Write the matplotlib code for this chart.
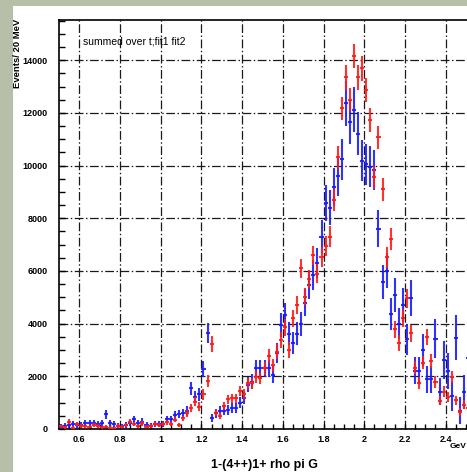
import numpy as np
import matplotlib
matplotlib.use("Agg")
import matplotlib.pyplot as plt
from matplotlib.ticker import FixedLocator, MultipleLocator
from matplotlib.patches import Rectangle

plt.rcParams['font.family'] = ['Liberation Sans', 'DejaVu Sans']

# ---- data (20 MeV bins, centres 0.51 ... 2.51 GeV) ----
bin_lo = 0.50
bin_width = 0.02

red_vals = [
    100, 60, 280, 50, 200, 120, 100, 80, 150, 120, 60, 80, 50, 30, 120, 80, 150, 280, 200, 120, 220, 80, 120, 180, 150,
    200, 250, 200, 350, 150, 400, 590, 785, 1040, 850, 1310, 1820,
    3230, 620, 505, 885, 1130, 1165, 1165, 1455, 1330, 1735, 1735, 1985, 1920, 2300, 2770, 2420, 2930, 3380,
    3860, 3000, 4200, 4700,
    6100, 5020, 5680, 6600, 5900, 6540, 6940, 7300, 8690, 10310, 12170, 13350, 12510, 14160, 13350, 13690, 12870, 11730, 9550,
    11070, 9100, 6520, 7200, 3780, 3280, 4200, 4960, 3630, 2330, 1750, 2520, 3500, 2570, 1780, 1070, 1420, 1230, 1990, 1100, 640, 930, 800,
]
red_err = [
    70, 60, 90, 60, 80, 70, 70, 60, 80, 70, 60, 60, 60, 50, 70, 60, 80, 90, 80, 70, 90, 60, 70, 80, 80,
    80, 90, 80, 100, 80, 110, 130, 150, 170, 160, 190, 220,
    300, 130, 120, 150, 170, 170, 170, 190, 180, 210, 210, 220, 220, 240, 270, 250, 280, 300,
    320, 290, 330, 350,
    350, 320, 340, 360, 350, 370, 380, 390, 420, 440, 450, 460, 450, 470, 460, 460, 450, 440, 420,
    450, 430, 400, 420, 320, 300, 340, 360, 310, 250, 220, 260, 310, 270, 220, 170, 200, 190, 230, 170, 140, 160, 150,
]
blue_vals = [
    80, 120, 150, 180, 140, 160, 220, 240, 230, 200, 220, 560, 230, 180, 120, 100, 160, 230, 370, 210, 280, 150, 120, 200, 180,
    200, 370, 370, 530, 560, 600, 680, 1540, 1200, 1320, 2280, 3630,
    430, 600, 700, 700, 720, 800, 780, 990, 1170, 1680, 1800, 2300, 2300, 2300, 2300, 2060, 2900, 3950,
    4330, 3620, 3250, 3620,
    4000, 4800, 5470, 5840, 6310, 7300, 8590, 8410, 9200, 9600, 10240, 12360, 11660, 12130, 11220, 10180, 10060, 9960, 9830,
    7600, 5570, 6010, 4360, 5090, 4000, 4700, 3400, 4980, 2220, 2220, 3010, 1880, 1880, 3430, 1420, 2630, 2190, 1250, 3470, 700, 1410, 2700,
]
blue_err = [
    100, 100, 110, 110, 100, 110, 120, 120, 120, 110, 120, 170, 120, 110, 100, 100, 110, 120, 140, 120, 130, 110, 100, 120, 110,
    120, 140, 140, 160, 160, 170, 180, 260, 230, 240, 300, 380,
    150, 170, 180, 180, 180, 190, 190, 210, 230, 280, 290, 330, 330, 330, 330, 320, 380, 440,
    460, 430, 420, 440,
    460, 500, 540, 560, 580, 620, 680, 680, 720, 740, 780, 860, 840, 860, 820, 780, 780, 770, 770,
    700, 640, 660, 600, 640, 600, 640, 580, 680, 520, 520, 600, 520, 520, 740, 500, 730, 680, 560, 840, 520, 640, 800,
]

xtick_vals = [0.6, 0.8, 1.0, 1.2, 1.4, 1.6, 1.8, 2.0, 2.2, 2.4]
xtick_labels = ["0.6", "0.8", "1", "1.2", "1.4", "1.6", "1.8", "2", "2.2", "2.4"]
ytick_vals = [0, 2000, 4000, 6000, 8000, 10000, 12000, 14000]
ytick_labels = ["0", "2000", "4000", "6000", "8000", "10000", "12000", "14000"]

mass = bin_lo + bin_width * (np.arange(len(red_vals)) + 0.5)

# ---- figure ----
W, H = 467, 472
fig = plt.figure(figsize=(W / 100, H / 100), dpi=100, facecolor='#b8bfa9')
fig.patches.append(Rectangle((13 / W, 0), 1, 1 - 6 / H, transform=fig.transFigure,
                             facecolor='white', edgecolor='none', zorder=-10))

xmin, xmax = 0.5, 2.6
ymin, ymax = 0, 15530
ax_left, ax_bottom, ax_top = 59 / W, 1 - 429 / H, 1 - 20 / H
ax_w = (xmax - xmin) * 203.5 / W
ax = fig.add_axes([ax_left, ax_bottom, ax_w, ax_top - ax_bottom])
ax.set_zorder(1)
ax.set_facecolor('white')
ax.set_xlim(xmin, xmax)
ax.set_ylim(ymin, ymax)

ax.errorbar(mass, blue_vals, yerr=blue_err, xerr=bin_width / 2, fmt='none',
            ecolor='#1a1aff', elinewidth=1.5, capsize=0, alpha=0.9, zorder=3)
ax.errorbar(mass, red_vals, yerr=red_err, xerr=bin_width / 2, fmt='none',
            ecolor='#ff1a1a', elinewidth=1.5, capsize=0, alpha=0.9, zorder=4)

ax.xaxis.set_major_locator(FixedLocator(xtick_vals))
ax.set_xticklabels(xtick_labels)
ax.xaxis.set_minor_locator(MultipleLocator(0.05))
ax.yaxis.set_major_locator(FixedLocator(ytick_vals))
ax.set_yticklabels(ytick_labels)
ax.yaxis.set_minor_locator(MultipleLocator(500))

ax.tick_params(axis='both', which='both', direction='in', color='black', width=1)
ax.tick_params(axis='x', which='both', length=3.5, pad=4, labelsize=6.5)
ax.tick_params(axis='y', which='both', length=4, pad=8, labelsize=6.5)
ax.tick_params(top=False, right=False)
for lab in ax.get_xticklabels() + ax.get_yticklabels():
    lab.set_fontweight('bold')

ax.grid(True, which='major', color='#1a1a1a', linewidth=0.9, linestyle=(0, (7, 2, 1.2, 2)))
ax.set_axisbelow(True)
for s in ['left', 'bottom', 'top']:
    ax.spines[s].set_linewidth(1.2)
    ax.spines[s].set_color('black')
ax.spines['right'].set_visible(False)

fig.text(83 / W, 1 - 41 / H, "summed over t;fit1 fit2", fontsize=7.5, ha='left', va='center', zorder=5)
fig.text(18 / W, 1 - 19 / H, "Events/ 20 MeV", fontsize=6.8, fontweight='bold',
         rotation=90, ha='center', va='top', zorder=5)
fig.text(264 / W, 1 - 465 / H, "1-(4++)1+ rho pi G", fontsize=9, fontweight='bold',
         ha='center', va='center', zorder=5)
fig.text(450 / W, 1 - 447 / H, "GeV", fontsize=6, fontweight='bold', ha='left', va='center', zorder=5)

fig.savefig("out.png", dpi=100, facecolor=fig.get_facecolor())
